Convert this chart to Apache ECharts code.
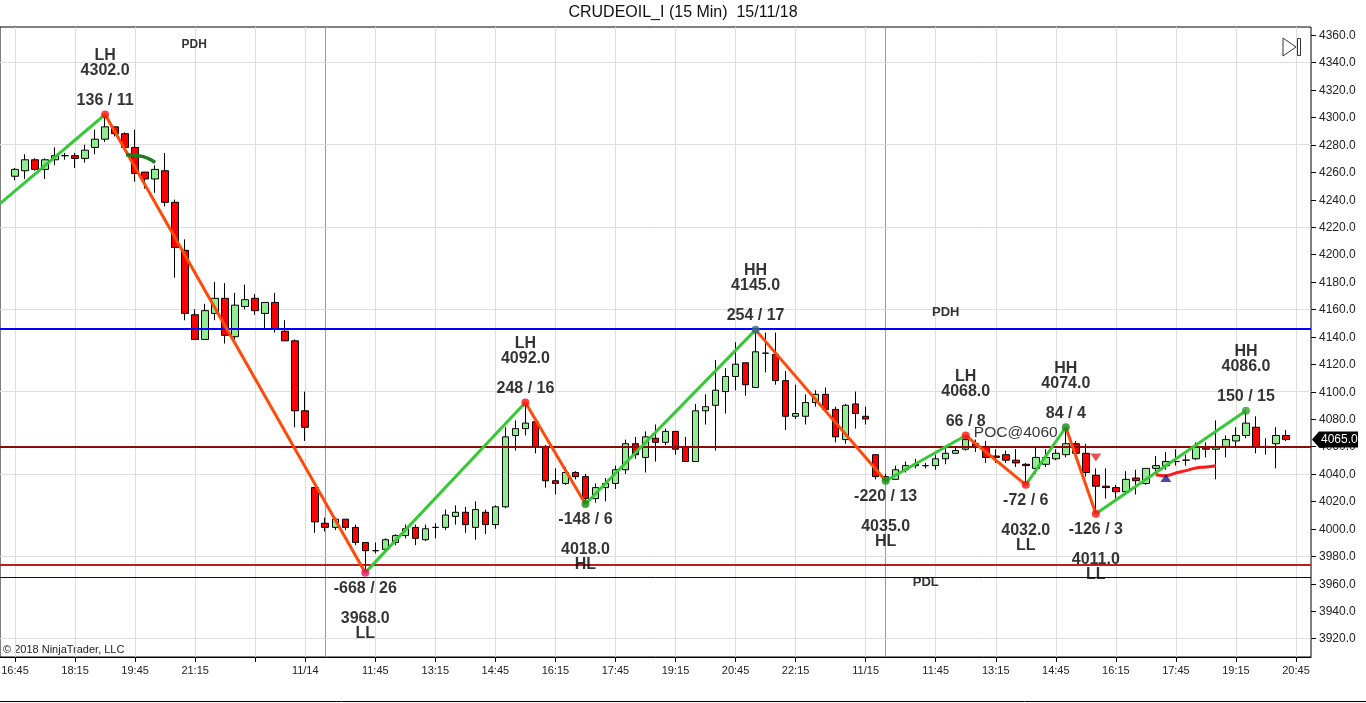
<!DOCTYPE html>
<html><head><meta charset="utf-8">
<script src="https://cdn.jsdelivr.net/npm/echarts@6/dist/echarts.min.js"></script>
<style>html,body{margin:0;padding:0;background:#fff;overflow:hidden}#c{width:1366px;height:703px}</style>
</head><body><div id="c"></div>
<script>
const FONT = "'Liberation Sans', Arial, sans-serif";

// ---- OHLC per 15-min bar (bar index 0..127; slot 128 is empty) ----
const opens = [4257,4261,4269,4262,4269,4272,4272,4270,4278,4284,
 4293,4288,4278,4260,4255,4261,4238,4203,4156,4138,
 4157,4168,4140,4162,4168,4157,4165,4144,4137,4086,
 4030,4004,4001,4007,4001,3990,3984,3985,3990,3995,
 4001,3992,4001,4001,4009,4012,4001,4012,4003,4016,
 4068,4073,4078,4060,4035,4033,4041,4038,4022,4030,
 4033,4043,4062,4052,4066,4063,4071,4060,4049,4086,
 4090,4100,4111,4121,4103,4128,4127,4108,4082,4082,
 4092,4098,4087,4065,4091,4082,4054,4036,4036,4043,
 4046,4046,4046,4051,4055,4058,4062,4060,4053,4054,
 4050,4047,4044,4047,4051,4054,4062,4055,4039,4031,
 4030,4027,4037,4033,4044,4046,4049,4050,4051,4060,
 4058,4060,4064,4068,4074,4060,4062,4068];
const closes = [4262,4269,4262,4269,4272,4272,4270,4276,4284,4293,
 4288,4278,4259,4255,4262,4238,4205,4157,4138,4159,
 4168,4141,4163,4167,4159,4165,4146,4137,4086,4074,
 4005,4001,4007,4001,3990,3984,3984,3992,3995,4000,
 3993,4000,4001,4010,4012,4003,4014,4003,4016,4067,
 4073,4077,4060,4035,4033,4041,4038,4022,4030,4033,
 4043,4062,4054,4067,4063,4071,4058,4049,4086,4089,
 4101,4111,4120,4105,4129,4128,4108,4082,4084,4092,
 4098,4087,4067,4090,4084,4080,4038,4038,4043,4046,
 4047,4046,4051,4055,4057,4065,4060,4052,4052,4050,
 4048,4046,4052,4052,4055,4062,4055,4041,4031,4030,
 4027,4036,4035,4044,4046,4049,4049,4050,4060,4058,
 4060,4065,4068,4077,4060,4060,4068,4065];
const lows = [4254,4255,4261,4255,4265,4269,4263,4267,4273,4282,
 4286,4278,4253,4248,4245,4235,4183,4152,4138,4138,
 4152,4135,4138,4160,4156,4146,4143,4137,4074,4064,
 3997,3998,3999,3999,3988,3968,3982,3984,3988,3993,
 3988,3991,3993,3999,4003,3997,3992,3996,4000,4015,
 4057,4068,4055,4030,4025,4032,4036,4018,4019,4020,
 4029,4040,4051,4041,4049,4061,4054,4049,4049,4076,
 4057,4084,4101,4097,4103,4114,4105,4072,4080,4076,
 4089,4087,4063,4062,4073,4076,4036,4035,4036,4041,
 4044,4044,4043,4047,4055,4057,4056,4048,4048,4048,
 4045,4032,4040,4045,4050,4052,4053,4038,4011,4022,
 4022,4026,4025,4032,4042,4043,4046,4046,4050,4052,
 4036,4052,4060,4066,4055,4054,4044,4064];
const highs = [4263,4273,4270,4270,4278,4274,4274,4280,4291,4302,
 4293,4289,4291,4260,4265,4274,4240,4211,4160,4164,
 4180,4179,4172,4178,4171,4165,4172,4152,4138,4100,
 4030,4008,4008,4007,4003,3990,3990,3993,3996,4003,
 4003,4003,4004,4014,4017,4016,4020,4014,4017,4074,
 4079,4092,4078,4061,4044,4045,4042,4040,4033,4037,
 4046,4065,4067,4071,4076,4073,4071,4067,4091,4098,
 4123,4117,4136,4121,4145,4143,4143,4115,4105,4098,
 4101,4103,4089,4091,4100,4089,4054,4040,4046,4049,
 4051,4048,4054,4059,4059,4068,4065,4064,4058,4057,
 4058,4048,4060,4058,4058,4074,4064,4062,4044,4044,
 4032,4042,4043,4044,4053,4056,4058,4054,4063,4063,
 4079,4068,4074,4086,4082,4066,4074,4072];
const slotCount = 129; // bar slots 0..128

// ---- x axis labels (bar index -> text) ----
const xLabelIdx  = [0,6,12,18,24,29,36,42,48,54,60,66,72,78,85,92,98,104,110,116,122,128];
const xLabelText = ['16:45','18:15','19:45','21:15','','11/14','11:45','13:15','14:45','16:15','17:45','19:15','20:45','22:15','11/15','11:45','13:15','14:45','16:15','17:45','19:15','20:45'];
const sessionLineIdx = [31, 87];

// ---- y axis ----
const yTicks = [3920,3940,3960,3980,4000,4020,4040,4060,4080,4100,4120,4140,4160,4180,4200,4220,4240,4260,4280,4300,4320,4340,4360];
const yGrid = [3920,3980,4040,4100,4160,4220,4280,4340];
const yMin = 3906.5, yMax = 4365.8;

// ---- zigzag swing pivots ----
const zigStart = [-1.5, 4237];
const pivotIdx   = [9,35,51,57,74,87,95,101,105,108,123];
const pivotPrice = [4302,3968,4092,4018,4145,4035,4068,4032,4074,4011,4086];
const pivotType  = ['LH','LL','LH','HL','HH','HL','LH','LL','HH','LL','HH'];
const pivotStats = ['136 / 11','-668 / 26','248 / 16','-148 / 6','254 / 17','-220 / 13','66 / 8','-72 / 6','84 / 4','-126 / 3','150 / 15'];
const pivotColor = ['#ff1010','#e0185a','#ff1010','#168a16','#2a6e80','#168a16','#ff1010','#ff1010','#168a16','#ff1010','#2ea02e'];

// ---- horizontal levels ----
const levelValues = [4146, 4060, 3974, 3965];
const levelColors = ['#0000ff','#8b0a0a','#b82020','#000080'];
const levelWidths = [2, 2, 2, 1];
const lastPrice = 4065;

// ---- small indicator curves / markers ----
const greenCurveX = [11.1, 12, 12.8, 13.5, 14];
const greenCurveY = [4272.7, 4272.3, 4271.3, 4269.3, 4267];
const redCurveX = [114, 115, 116, 117, 118, 119, 120];
const redCurveY = [4039.4, 4038.7, 4040.7, 4042.4, 4044.3, 4045, 4046];
const upArrow = [115, 4037];
const downArrow = [108, 4052];

// ---- text annotations ----
const notes = [
  {x: 100, y: 4070, text: 'POC@4060', size: 15.5, weight: 'normal'},
  {x: 93, y: 4158, text: 'PDH', size: 13, weight: 'bold'},
  {x: 91, y: 3961, text: 'PDL', size: 13, weight: 'bold'},
  {x: 17.9, y: 4353, text: 'PDH', size: 12, weight: 'bold'}
];

// ---- build ----
const cats = ['p0'];
for (let i = 0; i < slotCount; i++) cats.push(String(i));
cats.push('p1');
const empty = ['-','-','-','-'];
const candleData = [empty];
for (let i = 0; i < slotCount; i++) {
  if (i < opens.length) candleData.push([opens[i], closes[i], lows[i], highs[i]]);
  else candleData.push(empty);
}
candleData.push(empty);

const labelMap = {};
xLabelIdx.forEach((k, j) => labelMap[k + 1] = xLabelText[j]);

const gridLines = [];
xLabelIdx.forEach(k => gridLines.push({xAxis: cats[k + 1]}));
sessionLineIdx.forEach(k => gridLines.push({xAxis: cats[k + 1], lineStyle: {color: '#9a9a9a', width: 1}}));
yGrid.forEach(v => gridLines.push({yAxis: v}));

const series = [];
series.push({
  type: 'candlestick', name: 'bars', data: candleData, barWidth: 7, z: 2,
  itemStyle: {color: '#90ee90', color0: '#ff0000', borderColor: '#000', borderColor0: '#000', borderColorDoji: '#000', borderWidth: 1},
  markLine: {silent: true, symbol: 'none', z: 1, animation: false, label: {show: false},
    lineStyle: {color: '#dedede', width: 1, type: 'solid'}, data: gridLines}
});

series.push({
  type: 'line', name: 'levels', xAxisIndex: 1, data: [], z: 3,
  markLine: {silent: true, symbol: 'none', z: 3, animation: false, label: {show: false},
    data: levelValues.map((v, j) => ({yAxis: v, lineStyle: {color: levelColors[j], width: levelWidths[j], type: 'solid'}}))}
});

const pts = [zigStart].concat(pivotIdx.map((k, j) => [k, pivotPrice[j]]));
for (let j = 0; j < pts.length - 1; j++) {
  const a = pts[j], b = pts[j + 1];
  series.push({type: 'line', xAxisIndex: 1, data: [a, b], symbol: 'none', silent: true, z: 4, animation: false,
    lineStyle: {color: b[1] > a[1] ? '#36c936' : '#ff4a0a', width: 3}});
}

series.push({type: 'line', xAxisIndex: 1, data: greenCurveX.map((x, j) => [x, greenCurveY[j]]), smooth: 0.3, symbol: 'none', z: 4,
  lineStyle: {color: '#1d7a1d', width: 3.5}});
series.push({type: 'line', xAxisIndex: 1, data: redCurveX.map((x, j) => [x, redCurveY[j]]), smooth: true, symbol: 'none', z: 4,
  lineStyle: {color: '#ff1a1a', width: 3}});

series.push({type: 'scatter', xAxisIndex: 1, z: 5, symbol: 'triangle', symbolSize: [11, 8], data: [upArrow], itemStyle: {color: '#1a1a90'}});
series.push({type: 'scatter', xAxisIndex: 1, z: 5, symbol: 'triangle', symbolSize: [11, 8], symbolRotate: 180, data: [downArrow], itemStyle: {color: '#e02828'}});

series.push({
  type: 'scatter', xAxisIndex: 1, z: 6, symbol: 'circle', symbolSize: 8,
  data: pivotIdx.map((k, j) => {
    const isHigh = pivotType[j] === 'LH' || pivotType[j] === 'HH';
    const txt = isHigh
      ? pivotType[j] + '\n' + pivotPrice[j].toFixed(1) + '\n \n' + pivotStats[j]
      : pivotStats[j] + '\n \n' + pivotPrice[j].toFixed(1) + '\n' + pivotType[j];
    return {
      value: [k, pivotPrice[j]],
      itemStyle: {color: pivotColor[j]},
      label: {show: true, position: 'inside', formatter: txt, offset: [0, isHigh ? -36.5 : 38.5],
        fontFamily: FONT, fontSize: 16, fontWeight: 'bold', color: '#000', lineHeight: 15, align: 'center', verticalAlign: 'middle'}
    };
  })
});

series.push({
  type: 'scatter', xAxisIndex: 1, z: 6, symbolSize: 0, silent: true,
  data: notes.map(n => ({value: [n.x, n.y], label: {show: true, position: 'inside', formatter: n.text,
    fontFamily: FONT, fontSize: n.size, fontWeight: n.weight, color: '#000'}}))
});

const chart = echarts.init(document.getElementById('c'), null, {renderer: 'canvas'});
chart.setOption({
  animation: false,
  backgroundColor: '#fff',
  textStyle: {fontFamily: FONT},
  grid: {left: 0, right: 55, top: 27, bottom: 46, show: true, borderColor: '#000', borderWidth: 1, backgroundColor: '#fff', containLabel: false, outerBoundsMode: 'none'},
  xAxis: [{
    type: 'category', data: cats, boundaryGap: true,
    axisLine: {show: true, lineStyle: {color: '#000'}},
    axisTick: {show: true, alignWithLabel: true, length: 5, lineStyle: {color: '#000'}, interval: (i) => labelMap[i] !== undefined},
    axisLabel: {interval: (i) => labelMap[i] !== undefined, formatter: (v, i) => labelMap[i] || '', fontSize: 11, color: '#222', margin: 8, fontFamily: FONT},
    splitLine: {show: false}
  }, {
    type: 'value', min: -1.5, max: 129.5, show: false
  }],
  yAxis: {
    type: 'value', position: 'right', min: yMin, max: yMax,
    splitLine: {show: false},
    axisLine: {show: true, lineStyle: {color: '#000'}},
    axisTick: {show: false},
    axisLabel: {show: false}
  },
  series: series
});

const axisX = 1311;
const g = [
  {type: 'text', left: 'center', top: 5, style: {text: 'CRUDEOIL_I (15 Min)  15/11/18', font: '16px ' + FONT, fill: '#111'}},
  {type: 'text', left: 3, top: 644, style: {text: '© 2018 NinjaTrader, LLC', font: '11px ' + FONT, fill: '#222'}},
  {type: 'line', shape: {x1: 0, y1: 701.5, x2: 1366, y2: 701.5}, style: {stroke: '#000', lineWidth: 1}},
  {type: 'polygon', shape: {points: [[1283, 38], [1296, 47], [1283, 56]]}, style: {fill: 'none', stroke: '#333', lineWidth: 1}},
  {type: 'rect', shape: {x: 1297.5, y: 38.5, width: 3, height: 17}, style: {fill: 'none', stroke: '#333', lineWidth: 1}}
];
yTicks.forEach(v => {
  const y = Math.round(chart.convertToPixel({yAxisIndex: 0}, v)) + 0.5;
  g.push({type: 'line', shape: {x1: axisX, y1: y, x2: axisX + 5, y2: y}, style: {stroke: '#000', lineWidth: 1}});
  g.push({type: 'text', x: axisX + 8, y: y, style: {text: v.toFixed(1), font: '12px ' + FONT, fill: '#222', textVerticalAlign: 'middle', verticalAlign: 'middle'}});
});
const py = chart.convertToPixel({yAxisIndex: 0}, lastPrice);
g.push({type: 'polygon', z: 100, shape: {points: [[axisX + 1, py], [axisX + 8, py - 8], [axisX + 47, py - 8], [axisX + 47, py + 8], [axisX + 8, py + 8]]}, style: {fill: '#000'}});
g.push({type: 'text', z: 101, x: axisX + 10, y: py, style: {text: lastPrice.toFixed(1), font: '12px ' + FONT, fill: '#fff', textVerticalAlign: 'middle', verticalAlign: 'middle'}});
chart.setOption({graphic: g});
</script></body></html>
